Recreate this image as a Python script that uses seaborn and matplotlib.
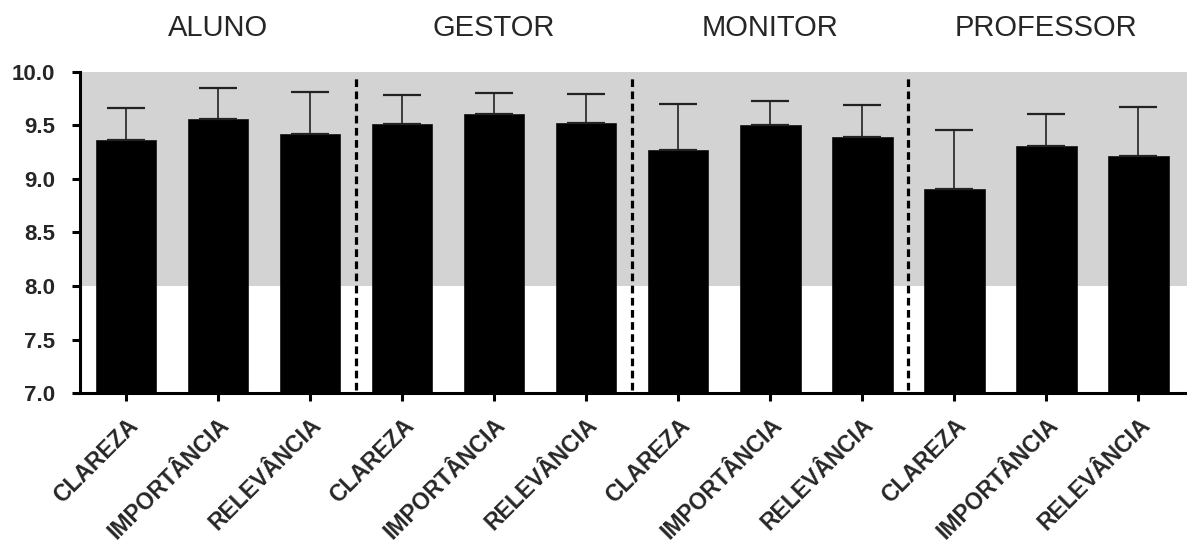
import pandas as pd
import numpy as np
import matplotlib.pyplot as plt
import matplotlib.transforms as mtransforms
import seaborn as sns

# dados
grupos = ["ALUNO", "GESTOR", "MONITOR", "PROFESSOR"]
criterios = ["CLAREZA", "IMPORTÂNCIA", "RELEVÂNCIA"]
medias = [9.36, 9.56, 9.42,
          9.51, 9.61, 9.52,
          9.27, 9.50, 9.39,
          8.91, 9.31, 9.21]
desvios = [0.30, 0.29, 0.39,
           0.27, 0.19, 0.27,
           0.43, 0.23, 0.30,
           0.55, 0.30, 0.46]
faixa_alta = (8.0, 10.0)

df = pd.DataFrame({
    "grupo": np.repeat(grupos, len(criterios)),
    "criterio": criterios * len(grupos),
    "media": medias,
    "dp": desvios,
})
df["chave"] = df["grupo"] + "_" + df["criterio"]

sns.set_theme(style="ticks")
plt.rcParams["font.family"] = ["Liberation Sans", "DejaVu Sans"]

fig = plt.figure(figsize=(11.87, 5.47), dpi=100)
ax = fig.add_axes([0.0674, 0.2815, 0.9326, 0.587])

ax.axhspan(*faixa_alta, color="#d3d3d3", zorder=0, lw=0)
sns.barplot(data=df, x="chave", y="media", color="black", width=0.66,
            edgecolor="#111111", linewidth=0.5, saturation=1, ax=ax, zorder=2)

x = np.arange(len(df))
ax.errorbar(x, df["media"], yerr=[np.zeros(len(df)), df["dp"]], fmt="none",
            ecolor="#222222", elinewidth=1.2, capsize=14, capthick=1.6, zorder=3)

# separadores entre grupos
n = len(criterios)
for i in range(1, len(grupos)):
    ax.axvline(i * n - 0.5, ymin=0.01, ymax=0.99, color="black", ls=(0, (2.4, 1.4)),
               lw=2.3, zorder=4)

ax.set_ylim(7.0, 10.0)
ax.set_xlim(-0.5, len(df) - 0.47)
ax.set_yticks(np.arange(7.0, 10.01, 0.5))
ax.set_yticklabels([f"{v:.1f}" for v in np.arange(7.0, 10.01, 0.5)],
                   fontsize=16, fontweight="bold")
ax.set_xticks(x)
ax.set_xticklabels(df["criterio"], rotation=45, ha="right", rotation_mode="anchor",
                   fontsize=16.5, fontweight="bold")
ax.set_xlabel("")
ax.set_ylabel("")
ax.tick_params(axis="both", direction="out", length=6, width=2.2, color="black")
ax.tick_params(axis="y", pad=12)
ax.tick_params(axis="x", pad=9)

for s in ["top", "right"]:
    ax.spines[s].set_visible(False)
for s in ["left", "bottom"]:
    ax.spines[s].set_linewidth(2.2)
    ax.spines[s].set_color("black")

trans = mtransforms.blended_transform_factory(ax.transData, fig.transFigure)
for i, g in enumerate(grupos):
    ax.text(i * n + (n - 1) / 2, 0.934, g, transform=trans, ha="center",
            va="baseline", fontsize=21)

fig.savefig("out.png", dpi=100)
